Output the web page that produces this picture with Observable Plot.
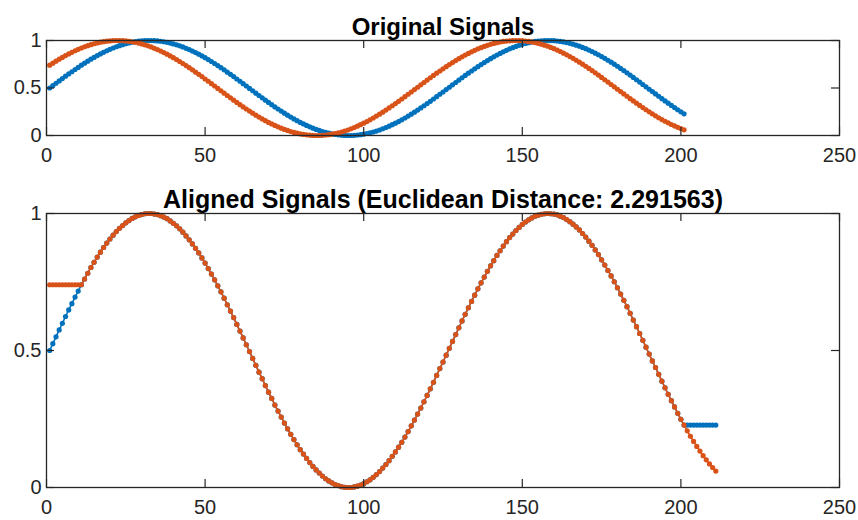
<!DOCTYPE html>
<html><head><meta charset="utf-8">
<script src="https://cdn.jsdelivr.net/npm/d3@7"></script>
<script src="https://cdn.jsdelivr.net/npm/@observablehq/plot@0.6"></script>
<style>
html,body{margin:0;padding:0;background:#fff;}
#chart{position:relative;width:858px;height:520px;overflow:hidden;font-family:"Liberation Sans",Arial,Helvetica,sans-serif;}
#chart svg{position:absolute;left:0;overflow:visible;}
</style></head><body><div id="chart"></div>
<script>
// Signal 1 (blue), samples 1..201
const blueSignal = [
0.500,0.525,0.550,0.575,0.599,0.624,0.648,0.671,0.695,0.717,
0.740,0.761,0.782,0.803,0.822,0.841,0.859,0.876,0.892,0.907,
0.921,0.934,0.946,0.956,0.966,0.974,0.982,0.988,0.993,0.996,
0.999,1.000,1.000,0.998,0.996,0.992,0.987,0.981,0.973,0.964,
0.955,0.944,0.932,0.918,0.904,0.889,0.873,0.856,0.838,0.819,
0.799,0.779,0.758,0.736,0.714,0.691,0.667,0.644,0.620,0.595,
0.571,0.546,0.521,0.496,0.471,0.446,0.421,0.397,0.372,0.348,
0.325,0.301,0.279,0.257,0.235,0.214,0.194,0.175,0.156,0.138,
0.122,0.106,0.091,0.077,0.064,0.053,0.042,0.032,0.024,0.017,
0.011,0.007,0.003,0.001,0.000,0.000,0.002,0.005,0.009,0.014,
0.021,0.028,0.037,0.047,0.058,0.071,0.084,0.098,0.114,0.130,
0.147,0.165,0.184,0.204,0.225,0.246,0.268,0.290,0.313,0.336,
0.360,0.384,0.409,0.434,0.458,0.483,0.508,0.533,0.558,0.583,
0.608,0.632,0.656,0.679,0.702,0.725,0.747,0.768,0.789,0.809,
0.828,0.847,0.864,0.881,0.897,0.912,0.925,0.938,0.949,0.960,
0.969,0.977,0.984,0.990,0.994,0.997,0.999,1.000,0.999,0.998,
0.995,0.990,0.985,0.978,0.970,0.961,0.951,0.940,0.927,0.914,
0.899,0.884,0.867,0.850,0.831,0.812,0.792,0.772,0.751,0.729,
0.706,0.683,0.660,0.636,0.611,0.587,0.562,0.537,0.512,0.487,
0.462,0.438,0.413,0.388,0.364,0.340,0.317,0.294,0.271,0.249,
0.228];

// Signal 2 (orange), samples 1..201
const orangeSignal = [
0.740,0.761,0.782,0.803,0.822,0.841,0.859,0.876,0.892,0.907,
0.921,0.934,0.946,0.956,0.966,0.974,0.982,0.988,0.993,0.996,
0.999,1.000,1.000,0.998,0.996,0.992,0.987,0.981,0.973,0.964,
0.955,0.944,0.932,0.918,0.904,0.889,0.873,0.856,0.838,0.819,
0.799,0.779,0.758,0.736,0.714,0.691,0.667,0.644,0.620,0.595,
0.571,0.546,0.521,0.496,0.471,0.446,0.421,0.397,0.372,0.348,
0.325,0.301,0.279,0.257,0.235,0.214,0.194,0.175,0.156,0.138,
0.122,0.106,0.091,0.077,0.064,0.053,0.042,0.032,0.024,0.017,
0.011,0.007,0.003,0.001,0.000,0.000,0.002,0.005,0.009,0.014,
0.021,0.028,0.037,0.047,0.058,0.071,0.084,0.098,0.114,0.130,
0.147,0.165,0.184,0.204,0.225,0.246,0.268,0.290,0.313,0.336,
0.360,0.384,0.409,0.434,0.458,0.483,0.508,0.533,0.558,0.583,
0.608,0.632,0.656,0.679,0.702,0.725,0.747,0.768,0.789,0.809,
0.828,0.847,0.864,0.881,0.897,0.912,0.925,0.938,0.949,0.960,
0.969,0.977,0.984,0.990,0.994,0.997,0.999,1.000,0.999,0.998,
0.995,0.990,0.985,0.978,0.970,0.961,0.951,0.940,0.927,0.914,
0.899,0.884,0.867,0.850,0.831,0.812,0.792,0.772,0.751,0.729,
0.706,0.683,0.660,0.636,0.611,0.587,0.562,0.537,0.512,0.487,
0.462,0.438,0.413,0.388,0.364,0.340,0.317,0.294,0.271,0.249,
0.228,0.207,0.187,0.168,0.150,0.133,0.116,0.101,0.086,0.073,
0.060];

// DTW warping: orange's first sample is held for 10 extra steps at the start,
// blue's last sample is held for 10 extra steps at the end.
const holdOrangeStart = 10;
const holdBlueEnd = 10;

const xTicks = [0, 50, 100, 150, 200, 250];
const yTicks = [0, 0.5, 1];
const xDomain = [0, 250];
const yDomain = [0, 1];
const titleTop = "Original Signals";
const titleBottom = "Aligned Signals (Euclidean Distance: 2.291563)";

const BLUE = "#0072BD", ORANGE = "#D95319", AXIS = "#262626";

const alignedBlue = blueSignal.concat(Array(holdBlueEnd).fill(blueSignal[blueSignal.length - 1]));
const alignedOrange = Array(holdOrangeStart).fill(orangeSignal[0]).concat(orangeSignal);

const W = 858, ML = 46, MR = 19;

function panel(series, title, titleSize, H, MT, MB, top) {
  const fh = H - MT - MB, fw = W - ML - MR, tl = 8;
  const marks = [];
  for (const [vals, color] of series) {
    marks.push(Plot.line(vals, {x: (d, i) => i + 1, y: d => d, stroke: color, strokeWidth: 1.6}));
    marks.push(Plot.dot(vals, {x: (d, i) => i + 1, y: d => d, fill: color, stroke: "none", r: 2.6}));
  }
  marks.push(
    Plot.tickX(xTicks, {x: d => d, stroke: AXIS, strokeWidth: 1.2, insetTop: fh - tl}),
    Plot.tickX(xTicks, {x: d => d, stroke: AXIS, strokeWidth: 1.2, insetBottom: fh - tl}),
    Plot.tickY(yTicks, {y: d => d, stroke: AXIS, strokeWidth: 1.2, insetRight: fw - tl}),
    Plot.tickY(yTicks, {y: d => d, stroke: AXIS, strokeWidth: 1.2, insetLeft: fw - tl}),
    Plot.frame({stroke: AXIS, strokeWidth: 1.3}),
    Plot.axisX({ticks: xTicks, tickSize: 0, tickPadding: 12, label: null, fontSize: 20, fill: AXIS, tickFormat: d => String(d)}),
    Plot.axisY({ticks: yTicks, tickSize: 0, tickPadding: 5, label: null, fontSize: 20, fill: AXIS, tickFormat: d => String(d)}),
    Plot.text([title], {frameAnchor: "top", lineAnchor: "bottom", dy: -6, fontSize: titleSize, fontWeight: "bold", fill: "#000", text: d => d})
  );
  const svg = Plot.plot({
    width: W, height: H,
    marginLeft: ML, marginRight: MR, marginTop: MT, marginBottom: MB,
    x: {domain: xDomain, axis: null},
    y: {domain: yDomain, axis: null},
    style: {fontFamily: '"Liberation Sans", Arial, Helvetica, sans-serif', background: "transparent", overflow: "visible"},
    marks
  });
  svg.style.top = top + "px";
  return svg;
}

const chart = document.getElementById("chart");
chart.append(panel([[blueSignal, BLUE], [orangeSignal, ORANGE]], titleTop, 24, 175, 40, 40, 0));
chart.append(panel([[alignedBlue, BLUE], [alignedOrange, ORANGE]], titleBottom, 25, 345, 38, 33, 175));
</script></body></html>
